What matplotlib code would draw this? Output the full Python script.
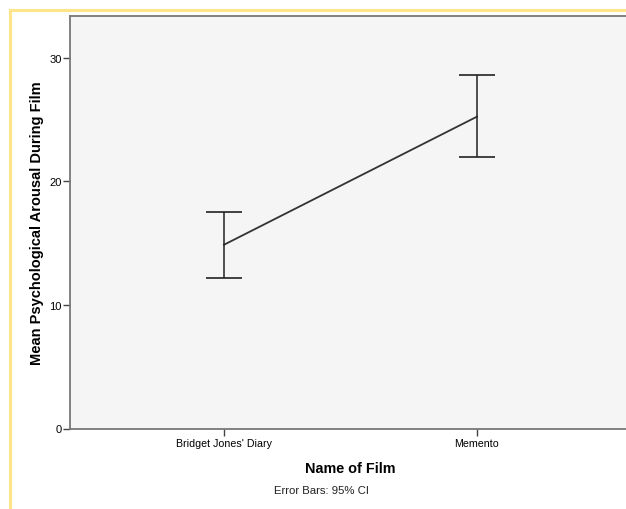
import matplotlib.pyplot as plt
from matplotlib.patches import Rectangle

films = ["Bridget Jones' Diary", "Memento"]
means = [14.88, 25.25]
ci_low = [12.16, 21.96]
ci_high = [17.53, 28.65]
y_ticks = [0, 10, 20, 30]

plt.rcParams['font.family'] = ['Liberation Sans', 'DejaVu Sans']

fig = plt.figure(figsize=(6.26, 5.10), dpi=100)

# yellow outer frame
fig.patches.append(Rectangle((10 / 626, -0.05), 1.2, 1 - 11 / 510 + 0.05,
                             transform=fig.transFigure, fill=False,
                             edgecolor='#FFE58A', linewidth=2.2))

ax = fig.add_axes([70 / 626, 80.5 / 510, 561 / 626, 412.5 / 510])
ax.set_facecolor('#F5F5F5')

x = [1, 2]
err = [[m - lo for m, lo in zip(means, ci_low)],
       [hi - m for m, hi in zip(means, ci_high)]]
ax.plot(x, means, color='#333333', linewidth=1.3)
ax.errorbar(x, means, yerr=err, fmt='none', ecolor='#222222',
            elinewidth=1.1, capsize=13.3, capthick=1.2)

ax.set_xlim(0.391, 2.609)
ax.set_ylim(0, 33.4)
ax.set_yticks(y_ticks)
ax.set_xticks(x)
ax.set_xticklabels(films, fontsize=7.7)
ax.tick_params(axis='y', labelsize=8, length=5, width=1, color='#444444', pad=1)
ax.tick_params(axis='x', length=5, width=1, color='#444444', pad=2)

for side in ['left', 'bottom', 'top']:
    ax.spines[side].set_color('#777777')
    ax.spines[side].set_linewidth(1.3)
ax.spines['right'].set_visible(False)

ax.set_ylabel('Mean Psychological Arousal During Film', fontsize=10.5,
              fontweight='bold', labelpad=4)
ax.set_xlabel('Name of Film', fontsize=10.4, fontweight='bold', labelpad=9)

fig.text(322 / 626, 1 - 491 / 510, 'Error Bars: 95% CI', fontsize=8.2,
         ha='center', va='center', color='#222222')

fig.savefig('out.png', dpi=100)
